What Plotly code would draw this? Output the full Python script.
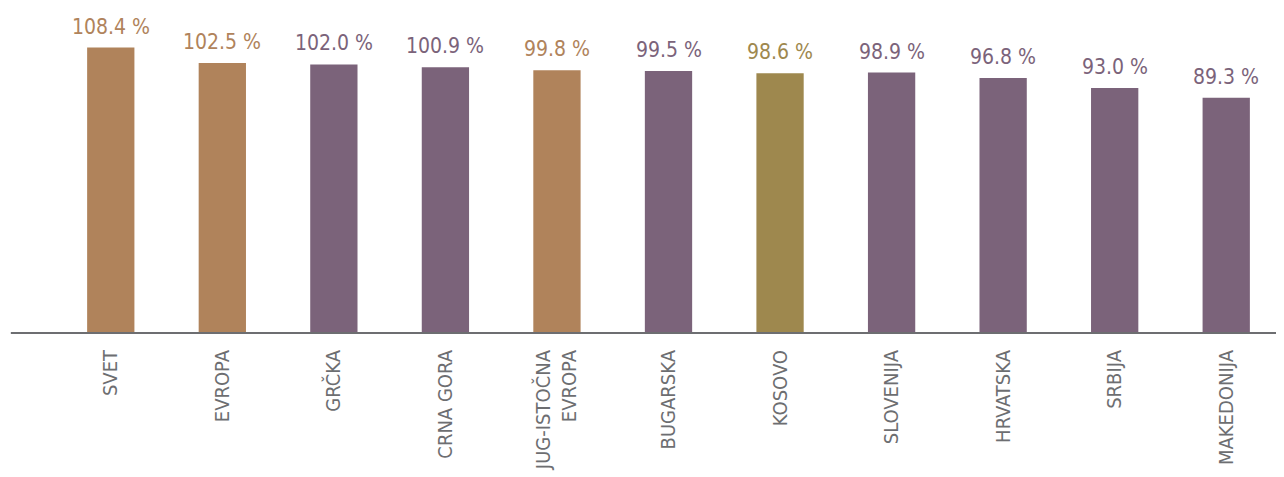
import plotly.graph_objects as go

categories = ["SVET", "EVROPA", "GRČKA", "CRNA GORA", "JUG-ISTOČNA<br>EVROPA", "BUGARSKA",
              "KOSOVO", "SLOVENIJA", "HRVATSKA", "SRBIJA", "MAKEDONIJA"]
values = [108.4, 102.5, 102.0, 100.9, 99.8, 99.5, 98.6, 98.9, 96.8, 93.0, 89.3]
groups = ["region", "region", "country", "country", "region", "country",
          "kosovo", "country", "country", "country", "country"]

palette = {"region": "#B0835B", "country": "#7B637A", "kosovo": "#9E884E"}
colors = [palette[g] for g in groups]
FONT = "DejaVu Sans Condensed, Liberation Sans Narrow, Arial Narrow, sans-serif"

# page body has an 8px default margin; figure is sized to fill the remaining window
W, H = 1276, 469

fig = go.Figure(go.Bar(x=categories, y=values, marker=dict(color=colors, line=dict(width=0)),
                       hoverinfo="skip"))

for c, v, col in zip(categories, values, colors):
    fig.add_annotation(x=c, y=v, text=f"{v:.1f} %", showarrow=False, yanchor="bottom",
                       yshift=7, font=dict(family=FONT, size=21, color=col))

fig.add_shape(type="line", xref="paper", yref="paper", x0=-0.036, x1=1.008, y0=0, y1=0,
              line=dict(color="#6D6E71", width=2))

fig.update_layout(
    width=W, height=H,
    margin=dict(l=47, r=2, t=9, b=144, autoexpand=False),
    paper_bgcolor="white", plot_bgcolor="white",
    bargap=0.576, showlegend=False,
    xaxis=dict(tickangle=-90, tickfont=dict(family=FONT, size=20, color="#6D6E71"),
               showline=False, showgrid=False, ticks="", ticklabelstandoff=12,
               automargin=False),
    yaxis=dict(range=[0, 120], visible=False, showgrid=False, automargin=False),
)

fig.write_html("out.html")
